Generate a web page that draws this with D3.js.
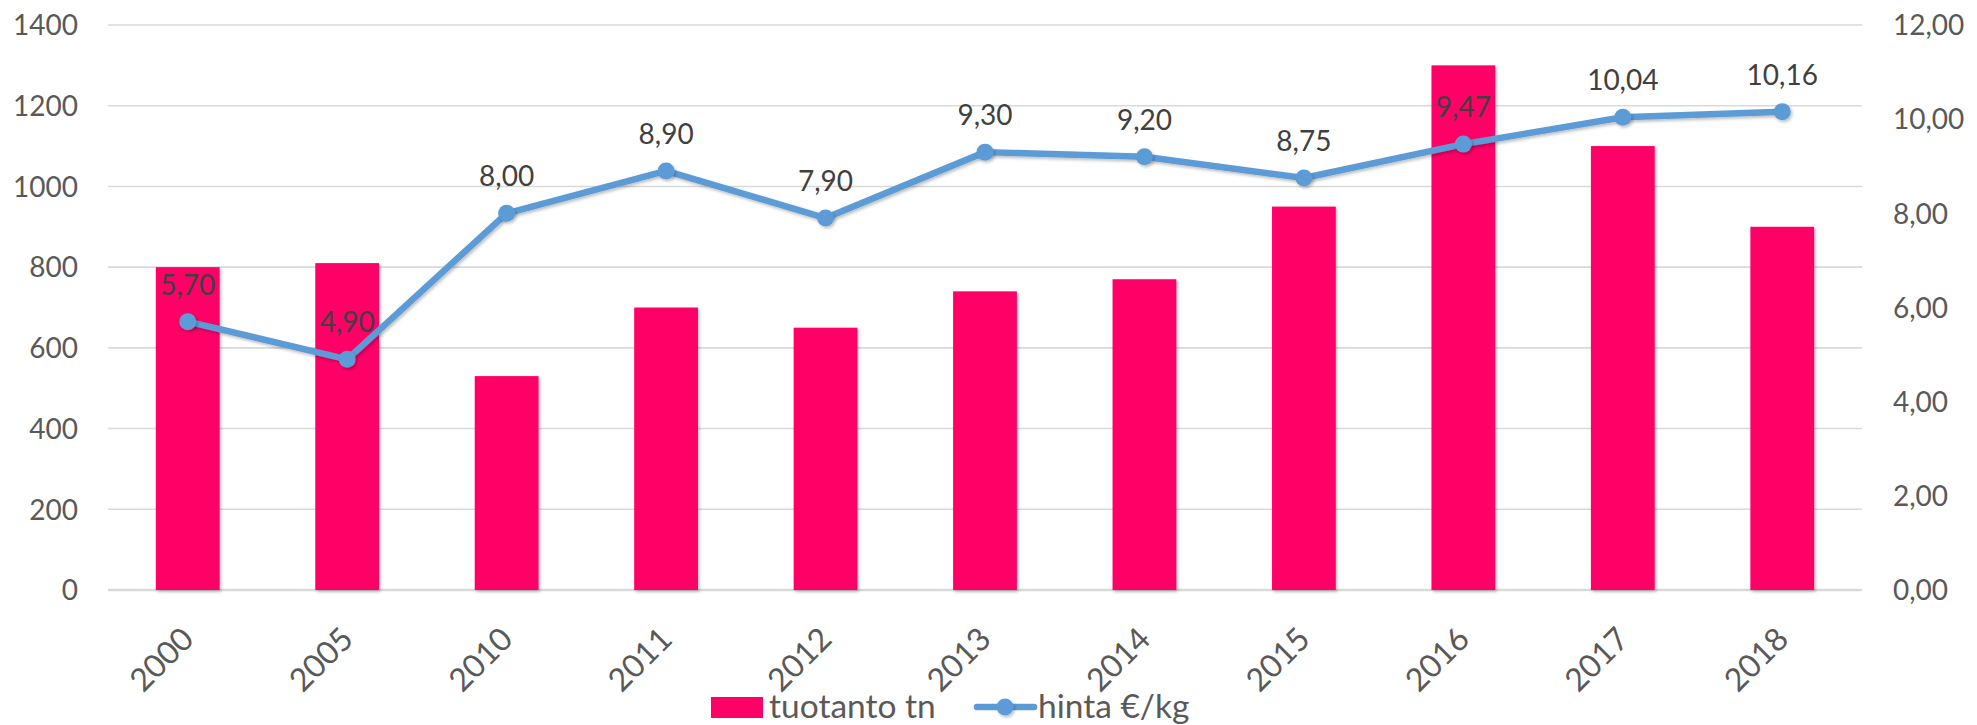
<!DOCTYPE html>
<html>
<head>
  <meta charset="utf-8">
  <title>tuotanto ja hinta</title>
  <style>
    body { margin: 0; background: #fff; }
    svg text { font-family: Lato, "Open Sans", sans-serif; }
    .tick-label { fill: #595959; font-size: 28px; }
    .x-label { fill: #595959; font-size: 32px; }
    .data-label { fill: #404040; font-size: 28px; }
    .legend-label { fill: #595959; font-size: 33.5px; }
  </style>
  <script src="https://d3js.org/d3.v7.min.js"></script>
</head>
<body>
  <svg id="chart" width="1977" height="725"></svg>

  <script>
    // data
    const years = ['2000', '2005', '2010', '2011', '2012', '2013', '2014', '2015', '2016', '2017', '2018'];
    const tuotanto = [800, 810, 530, 700, 650, 740, 770, 950, 1300, 1100, 900];
    const hinta = [5.70, 4.90, 8.00, 8.90, 7.90, 9.30, 9.20, 8.75, 9.47, 10.04, 10.16];
    const leftTicks = [0, 200, 400, 600, 800, 1000, 1200, 1400];
    const rightTicks = [0, 2, 4, 6, 8, 10, 12];
    const seriesNames = ['tuotanto tn', 'hinta €/kg'];

    const barColor = '#ff0066';
    const lineColor = '#5b9bd5';

    const plotLeft = 108, plotRight = 1862, plotTop = 25, plotBottom = 590;
    const fmt = v => v.toFixed(2).replace('.', ',');

    const svg = d3.select('#chart');

    const defs = svg.append('defs');
    const shadow = defs.append('filter').attr('id', 'shadow')
      .attr('x', '-20%').attr('y', '-20%').attr('width', '140%').attr('height', '140%');
    shadow.append('feDropShadow')
      .attr('dx', 1.5).attr('dy', 2).attr('stdDeviation', 1.5)
      .attr('flood-color', '#000').attr('flood-opacity', 0.25);

    const x = d3.scaleBand().domain(years).range([plotLeft, plotRight])
      .paddingInner(0.6).paddingOuter(0.3);
    const yL = d3.scaleLinear().domain([0, 1400]).range([plotBottom, plotTop]);
    const yR = d3.scaleLinear().domain([0, 12]).range([plotBottom, plotTop]);

    // gridlines
    svg.append('g').selectAll('line')
      .data(leftTicks)
      .enter().append('line')
      .attr('x1', plotLeft).attr('x2', plotRight)
      .attr('y1', d => yL(d)).attr('y2', d => yL(d))
      .attr('stroke', '#d9d9d9')
      .attr('stroke-width', d => d === 0 ? 2.5 : 1.6);

    // left axis
    const axL = svg.append('g')
      .attr('transform', `translate(${plotLeft - 30},0)`)
      .call(d3.axisLeft(yL).tickValues(leftTicks).tickFormat(d3.format('d')).tickSize(0).tickPadding(0));
    axL.select('.domain').remove();
    axL.selectAll('text').attr('class', 'tick-label').attr('dy', '0.35em');
    axL.attr('font-family', null).attr('font-size', null);

    // right axis
    const axR = svg.append('g')
      .attr('transform', `translate(${plotRight + 31},0)`)
      .call(d3.axisRight(yR).tickValues(rightTicks).tickFormat(fmt).tickSize(0).tickPadding(0));
    axR.select('.domain').remove();
    axR.selectAll('text').attr('class', 'tick-label').attr('dy', '0.35em');
    axR.attr('font-family', null).attr('font-size', null);

    // bars
    svg.append('g').selectAll('rect')
      .data(years)
      .enter().append('rect')
      .attr('x', d => x(d))
      .attr('y', (d, i) => yL(tuotanto[i]))
      .attr('width', x.bandwidth())
      .attr('height', (d, i) => plotBottom - yL(tuotanto[i]))
      .attr('fill', barColor)
      .attr('filter', 'url(#shadow)');

    // x labels
    svg.append('g').selectAll('text')
      .data(years)
      .enter().append('text')
      .attr('class', 'x-label')
      .attr('text-anchor', 'end')
      .attr('transform', d => `translate(${x(d) + x.bandwidth() / 2 + 8},641) rotate(-45)`)
      .text(d => d);

    // line
    const cx = d => x(d) + x.bandwidth() / 2;
    const line = d3.line()
      .x(d => cx(d))
      .y((d, i) => yR(hinta[i]));
    svg.append('path')
      .datum(years)
      .attr('d', line)
      .attr('fill', 'none')
      .attr('stroke', lineColor)
      .attr('stroke-width', 6.5)
      .attr('stroke-linejoin', 'round')
      .attr('filter', 'url(#shadow)');

    svg.append('g').selectAll('circle')
      .data(years)
      .enter().append('circle')
      .attr('cx', d => cx(d))
      .attr('cy', (d, i) => yR(hinta[i]))
      .attr('r', 8.5)
      .attr('fill', lineColor)
      .attr('filter', 'url(#shadow)');

    svg.append('g').selectAll('text')
      .data(years)
      .enter().append('text')
      .attr('class', 'data-label')
      .attr('text-anchor', 'middle')
      .attr('x', d => cx(d))
      .attr('y', (d, i) => yR(hinta[i]) - 27)
      .text((d, i) => fmt(hinta[i]));

    // legend
    const lg = svg.append('g');
    lg.append('rect')
      .attr('x', 711).attr('y', 697).attr('width', 52).attr('height', 21)
      .attr('fill', barColor);
    lg.append('text').attr('class', 'legend-label')
      .attr('x', 769).attr('y', 718).text(seriesNames[0]);
    lg.append('line')
      .attr('x1', 977).attr('x2', 1034).attr('y1', 707).attr('y2', 707)
      .attr('stroke', lineColor).attr('stroke-width', 6.5).attr('stroke-linecap', 'round');
    lg.append('circle')
      .attr('cx', 1005).attr('cy', 707).attr('r', 8.5)
      .attr('fill', lineColor).attr('filter', 'url(#shadow)');
    lg.append('text').attr('class', 'legend-label')
      .attr('x', 1038).attr('y', 718).text(seriesNames[1]);
  </script>
</body>
</html>
